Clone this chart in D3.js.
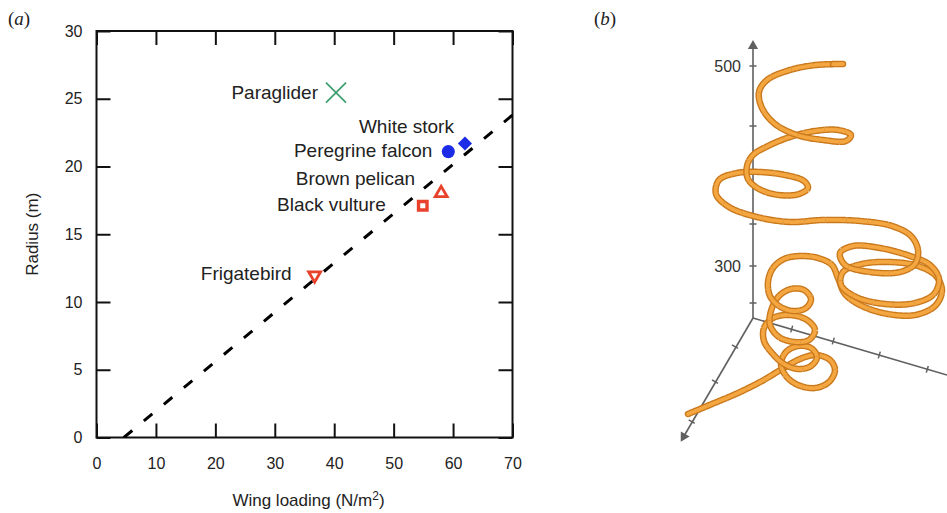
<!DOCTYPE html>
<html>
<head>
<meta charset="utf-8">
<script src="https://cdn.jsdelivr.net/npm/d3@7"></script>
<style>
body { margin: 0; background: #fff; }
svg { display: block; font-family: "Liberation Sans", Arial, sans-serif; }
</style>
</head>
<body>
<svg id="chart" width="947" height="513"></svg>
<script>
// ---- panel (a): radius vs wing loading
var species = ["Paraglider", "White stork", "Peregrine falcon", "Brown pelican", "Black vulture", "Frigatebird"];
var wingLoading = [40.3, 62.0, 59.2, 58.0, 54.9, 36.7];
var turnRadius = [25.45, 21.7, 21.1, 18.1, 17.1, 11.9];
var fitLine = [[4.6, 0], [70, 23.8]];
var xTicks = [0, 10, 20, 30, 40, 50, 60, 70];
var yTicks = [0, 5, 10, 15, 20, 25, 30];

// marker styles, one per species
var markerShape = ["x", "diamond", "circle", "triangleUp", "square", "triangleDown"];
var markerColor = ["#3a9d6e", "#1b2be6", "#1b2be6", "#e8412c", "#e8412c", "#e8412c"];
// label placement relative to marker (px)
var labelOffset = [[-18, 0], [-11, -17], [-16, -1], [-26, -14], [-37, -2], [-23, -3]];

// ---- panel (b): projected thermalling track, [horizontal (m), altitude (m)]
var flightPath = [
  [-65,152],[-41,162],[-15,173],[9,185],[29,197],[47,207],[63,211],[77,206],[82,196],[76,184],
  [62,178],[45,181],[33,190],[28,202],[33,214],[45,220],[58,218],[64,209],[58,200],[45,197],
  [31,202],[19,213],[11,225],[11,238],[20,248],[37,251],[54,246],[62,236],[56,226],[42,224],
  [26,229],[17,241],[18,255],[26,270],[38,277],[51,276],[58,267],[53,258],[40,255],[26,260],
  [17,270],[15,284],[20,298],[31,307],[47,310],[65,308],[79,301],[85,288],[92,272],[109,260],
  [135,252],[162,251],[182,260],[189,275],[183,290],[165,300],[137,304],[109,302],[90,294],[88,281],
  [103,269],[132,262],[162,263],[181,272],[186,287],[177,301],[157,310],[127,318],[100,320],[87,313],
  [92,301],[117,294],[147,294],[162,302],[165,316],[158,330],[139,340],[107,345],[70,346],[37,344],
  [4,349],[-24,359],[-37,372],[-34,386],[-16,393],[7,394],[32,391],[51,385],[55,378],[46,372],
  [26,371],[6,377],[-5,387],[-6,400],[0,411],[15,420],[37,429],[62,435],[85,436],[98,431],
  [93,425],[70,426],[44,431],[22,442],[9,458],[6,474],[14,486],[37,496],[63,501],[90,502]
];
var altTicks = [500, 440, 342, 300, 263];
var altLabels = [500, 300];
var axisOrigin = [0, 248];
var axisTop = [0, 524];
var eastAxisEnd = [194, 191];
var eastTicks = [[38.7, 237], [80.3, 225], [126.3, 211], [174.3, 196.7]];
var southAxisEnd = [-71.3, 126];
var southTicks = [[-18, 219.3], [-38, 184.3], [-61.3, 144.3]];

var svg = d3.select("#chart");

// ================= panel (a)
var x = d3.scaleLinear().domain([0, 70]).range([96.5, 512.5]);
var y = d3.scaleLinear().domain([0, 30]).range([437.5, 31]);

svg.append("defs").append("clipPath").attr("id", "plotClip")
  .append("rect")
  .attr("x", x(0)).attr("y", y(30))
  .attr("width", x(70) - x(0)).attr("height", y(0) - y(30));

function styleAxis(g) {
  g.select(".domain").remove();
  g.selectAll(".tick line").attr("stroke", "#111").attr("stroke-width", 2);
  g.selectAll(".tick text").attr("fill", "#222").style("font-size", "16px")
    .style("font-family", "'Liberation Sans', Arial, sans-serif");
}

svg.append("g").attr("transform", "translate(0," + y(0) + ")")
  .call(d3.axisBottom(x).tickValues(xTicks).tickSize(-14).tickPadding(20))
  .call(styleAxis);
svg.append("g").attr("transform", "translate(0," + y(30) + ")")
  .call(d3.axisTop(x).tickValues(xTicks).tickSize(-14).tickFormat(""))
  .call(styleAxis);
svg.append("g").attr("transform", "translate(" + x(0) + ",0)")
  .call(d3.axisLeft(y).tickValues(yTicks).tickSize(-14).tickPadding(14))
  .call(styleAxis);
svg.append("g").attr("transform", "translate(" + x(70) + ",0)")
  .call(d3.axisRight(y).tickValues(yTicks).tickSize(-14).tickFormat(""))
  .call(styleAxis);

svg.append("rect")
  .attr("x", x(0)).attr("y", y(30))
  .attr("width", x(70) - x(0)).attr("height", y(0) - y(30))
  .attr("fill", "none").attr("stroke", "#111").attr("stroke-width", 2);

// fitted line
svg.append("path")
  .datum(fitLine)
  .attr("clip-path", "url(#plotClip)")
  .attr("d", d3.line().x(function(d){ return x(d[0]); }).y(function(d){ return y(d[1]); }))
  .attr("fill", "none")
  .attr("stroke", "#000")
  .attr("stroke-width", 3)
  .attr("stroke-dasharray", "11,15");

// markers
var xMark = {
  draw: function(ctx, size) {
    var r = Math.sqrt(size) / 2;
    ctx.moveTo(-r, -r); ctx.lineTo(r, r);
    ctx.moveTo(r, -r); ctx.lineTo(-r, r);
  }
};

var pts = species.map(function(name, i) {
  return { name: name, wl: wingLoading[i], r: turnRadius[i], shape: markerShape[i], color: markerColor[i], off: labelOffset[i] };
});

var marks = svg.append("g").selectAll("g.mark")
  .data(pts).enter().append("g")
  .attr("class", "mark")
  .attr("transform", function(d){ return "translate(" + x(d.wl) + "," + y(d.r) + ")"; });

marks.each(function(d) {
  var g = d3.select(this);
  if (d.shape === "x") {
    g.append("path").attr("d", d3.symbol(xMark, 400)())
      .attr("fill", "none").attr("stroke", d.color).attr("stroke-width", 1.6);
  } else if (d.shape === "diamond") {
    g.append("path").attr("d", d3.symbol(d3.symbolSquare, 100)())
      .attr("transform", "rotate(45)").attr("fill", d.color);
  } else if (d.shape === "circle") {
    g.append("path").attr("d", d3.symbol(d3.symbolCircle, 135)()).attr("fill", d.color);
  } else if (d.shape === "square") {
    g.append("path").attr("d", d3.symbol(d3.symbolSquare, 72)())
      .attr("fill", "#fff").attr("stroke", d.color).attr("stroke-width", 3.4);
  } else {
    g.append("path").attr("d", d3.symbol(d3.symbolTriangle, 62)())
      .attr("transform", d.shape === "triangleDown" ? "translate(0,-1) rotate(180)" : "translate(0,1)")
      .attr("fill", "#fff").attr("stroke", d.color).attr("stroke-width", 2.8);
  }
});

marks.append("text")
  .attr("x", function(d){ return d.off[0]; })
  .attr("y", function(d){ return d.off[1]; })
  .attr("dy", "0.36em")
  .attr("text-anchor", "end")
  .attr("fill", "#222")
  .style("font-size", "19px")
  .text(function(d){ return d.name; });

// axis titles
svg.append("text")
  .attr("transform", "translate(38," + ((y(0) + y(30)) / 2) + ") rotate(-90)")
  .attr("text-anchor", "middle")
  .attr("fill", "#222")
  .style("font-size", "17px")
  .text("Radius (m)");

var xt = svg.append("text")
  .attr("x", (x(0) + x(70)) / 2 + 4).attr("y", 506)
  .attr("text-anchor", "middle")
  .attr("fill", "#222")
  .style("font-size", "17px");
xt.append("tspan").text("Wing loading (N/m");
xt.append("tspan").attr("dy", -6).style("font-size", "12px").text("2");
xt.append("tspan").attr("dy", 6).text(")");

// panel letters
function panelLetter(px, letter) {
  var t = svg.append("text").attr("x", px).attr("y", 25)
    .style("font-family", "'Liberation Serif', 'DejaVu Serif', serif")
    .style("font-size", "19px").attr("fill", "#222");
  t.append("tspan").text("(");
  t.append("tspan").style("font-style", "italic").text(letter);
  t.append("tspan").text(")");
}
panelLetter(8, "a");
panelLetter(594, "b");

// ================= panel (b)
var u = d3.scaleLinear().domain([0, 100]).range([753, 853]);
var h = d3.scaleLinear().domain([300, 500]).range([266, 66]);
var axisColor = "#606060";
var proj = d3.line().x(function(d){ return u(d[0]); }).y(function(d){ return h(d[1]); });

var gb = svg.append("g");
gb.append("path").datum([axisOrigin, axisTop]).attr("d", proj)
  .attr("stroke", axisColor).attr("stroke-width", 1.6).attr("fill", "none");
gb.append("path").datum([axisOrigin, eastAxisEnd]).attr("d", proj)
  .attr("stroke", axisColor).attr("stroke-width", 1.6).attr("fill", "none");
gb.append("path").datum([axisOrigin, southAxisEnd]).attr("d", proj)
  .attr("stroke", axisColor).attr("stroke-width", 1.6).attr("fill", "none");

// arrow heads
function arrowHead(end, from) {
  var ex = u(end[0]), ey = h(end[1]);
  var ang = Math.atan2(ey - h(from[1]), ex - u(from[0])) * 180 / Math.PI + 90;
  gb.append("path").attr("d", d3.symbol(d3.symbolTriangle, 45)())
    .attr("transform", "translate(" + ex + "," + ey + ") rotate(" + ang + ") translate(0,4)")
    .attr("fill", axisColor);
}
arrowHead(axisTop, axisOrigin);
arrowHead(southAxisEnd, axisOrigin);

// altitude ticks
gb.selectAll("line.alt").data(altTicks).enter().append("line")
  .attr("x1", u(0) - 3.5).attr("x2", u(0) + 3.5)
  .attr("y1", function(d){ return h(d); }).attr("y2", function(d){ return h(d); })
  .attr("stroke", axisColor).attr("stroke-width", 1.5);
gb.selectAll("text.alt").data(altLabels).enter().append("text")
  .attr("x", u(0) - 12).attr("y", function(d){ return h(d); })
  .attr("dy", "0.35em").attr("text-anchor", "end")
  .attr("fill", "#333").style("font-size", "16px")
  .text(function(d){ return d; });

// ground axis ticks (short marks perpendicular to their axis)
function groundTicks(list, end) {
  var dx = u(end[0]) - u(0), dy = h(end[1]) - h(axisOrigin[1]);
  var len = Math.sqrt(dx * dx + dy * dy), nx = -dy / len * 3.5, ny = dx / len * 3.5;
  gb.selectAll(null).data(list).enter().append("line")
    .attr("x1", function(d){ return u(d[0]) - nx; }).attr("x2", function(d){ return u(d[0]) + nx; })
    .attr("y1", function(d){ return h(d[1]) - ny; }).attr("y2", function(d){ return h(d[1]) + ny; })
    .attr("stroke", axisColor).attr("stroke-width", 1.5);
}
groundTicks(eastTicks, eastAxisEnd);
groundTicks(southTicks, southAxisEnd);

// flight track drawn as a tube: sample the smooth curve, draw in short pieces
var track = d3.line()
  .x(function(d){ return u(d[0]); }).y(function(d){ return h(d[1]); })
  .curve(d3.curveCatmullRom.alpha(0.5));
var tmp = svg.append("path").attr("d", track(flightPath)).attr("fill", "none");
var node = tmp.node(), total = node.getTotalLength();
var samples = d3.range(0, total, 1.5).map(function(l){ var p = node.getPointAtLength(l); return [p.x, p.y]; });
var last = node.getPointAtLength(total); samples.push([last.x, last.y]);
tmp.remove();

var piece = d3.line().curve(d3.curveLinear);
var step = 14;
var gTube = svg.append("g");
for (var i = 0; i < samples.length - 1; i += step) {
  var seg = samples.slice(i, i + step + 1);
  var cap = (i === 0 || i + step >= samples.length - 1) ? "round" : "butt";
  gTube.append("path").attr("d", piece(seg)).attr("fill", "none")
    .attr("stroke", "#c9791c").attr("stroke-width", 6.5)
    .attr("stroke-linecap", cap).attr("stroke-linejoin", "round");
  gTube.append("path").attr("d", piece(seg)).attr("fill", "none")
    .attr("stroke", "#f4a640").attr("stroke-width", 3.8)
    .attr("stroke-linecap", cap).attr("stroke-linejoin", "round");
}
</script>
</body>
</html>
